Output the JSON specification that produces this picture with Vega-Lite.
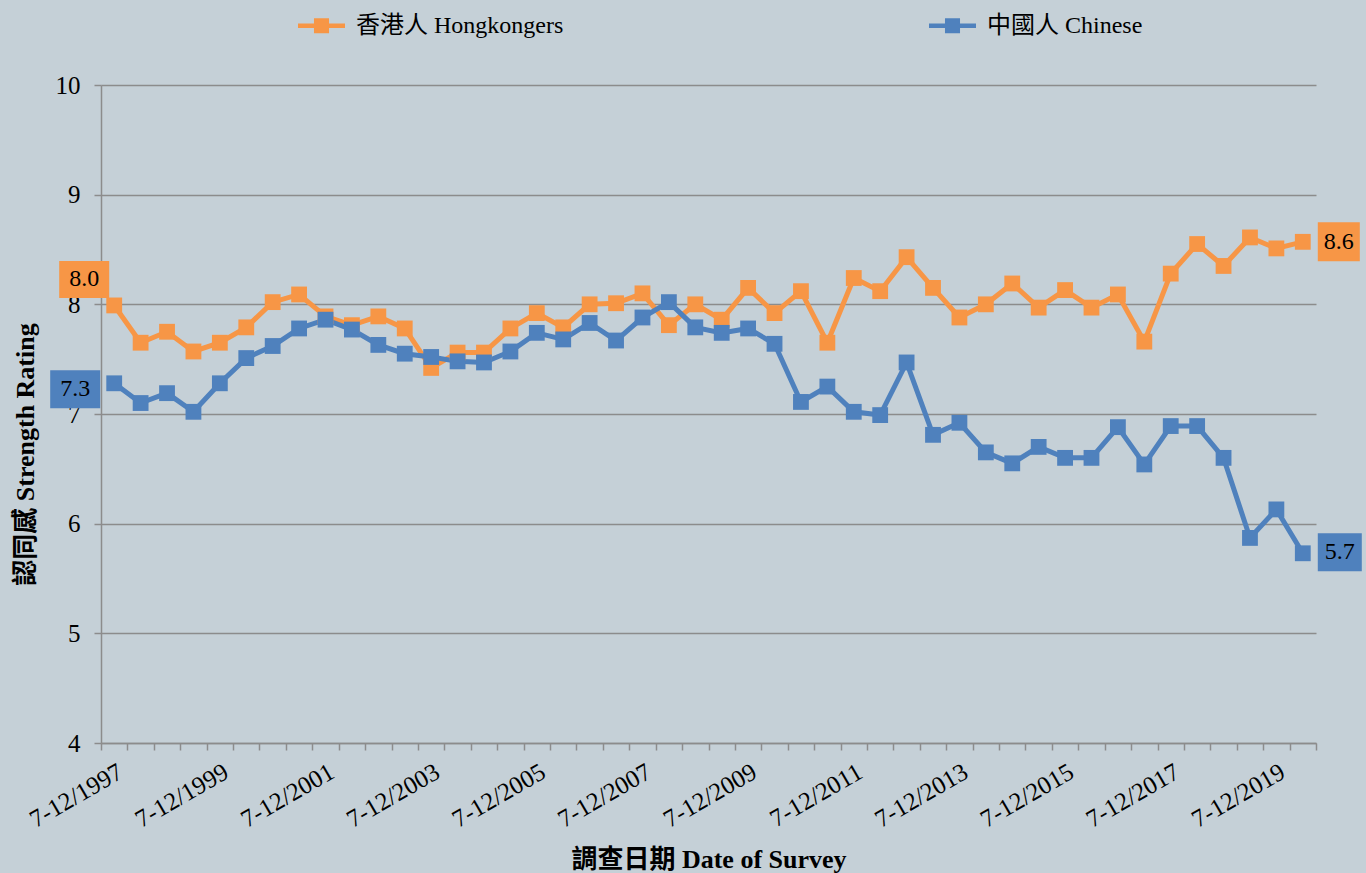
{
  "$schema": "https://vega.github.io/schema/vega-lite/v6.json",
  "width": 1215,
  "height": 658,
  "autosize": {"type": "none"},
  "padding": {"left": 101, "top": 85, "right": 50, "bottom": 130},
  "background": "#C5D0D7",
  "config": {"view": {"stroke": null}, "font": "Liberation Serif"},
  "data": {"values": [
    {"date": "7-12/1997", "series": "香港人 Hongkongers", "value": 7.99},
    {"date": "7-12/1997", "series": "中國人 Chinese", "value": 7.28},
    {"date": "1-6/1998", "series": "香港人 Hongkongers", "value": 7.65},
    {"date": "1-6/1998", "series": "中國人 Chinese", "value": 7.10},
    {"date": "7-12/1998", "series": "香港人 Hongkongers", "value": 7.75},
    {"date": "7-12/1998", "series": "中國人 Chinese", "value": 7.19},
    {"date": "1-6/1999", "series": "香港人 Hongkongers", "value": 7.57},
    {"date": "1-6/1999", "series": "中國人 Chinese", "value": 7.02},
    {"date": "7-12/1999", "series": "香港人 Hongkongers", "value": 7.65},
    {"date": "7-12/1999", "series": "中國人 Chinese", "value": 7.28},
    {"date": "1-6/2000", "series": "香港人 Hongkongers", "value": 7.79},
    {"date": "1-6/2000", "series": "中國人 Chinese", "value": 7.51},
    {"date": "7-12/2000", "series": "香港人 Hongkongers", "value": 8.02},
    {"date": "7-12/2000", "series": "中國人 Chinese", "value": 7.62},
    {"date": "1-6/2001", "series": "香港人 Hongkongers", "value": 8.09},
    {"date": "1-6/2001", "series": "中國人 Chinese", "value": 7.78},
    {"date": "7-12/2001", "series": "香港人 Hongkongers", "value": 7.89},
    {"date": "7-12/2001", "series": "中國人 Chinese", "value": 7.86},
    {"date": "1-6/2002", "series": "香港人 Hongkongers", "value": 7.81},
    {"date": "1-6/2002", "series": "中國人 Chinese", "value": 7.77},
    {"date": "7-12/2002", "series": "香港人 Hongkongers", "value": 7.89},
    {"date": "7-12/2002", "series": "中國人 Chinese", "value": 7.63},
    {"date": "1-6/2003", "series": "香港人 Hongkongers", "value": 7.78},
    {"date": "1-6/2003", "series": "中國人 Chinese", "value": 7.55},
    {"date": "7-12/2003", "series": "香港人 Hongkongers", "value": 7.42},
    {"date": "7-12/2003", "series": "中國人 Chinese", "value": 7.52},
    {"date": "1-6/2004", "series": "香港人 Hongkongers", "value": 7.56},
    {"date": "1-6/2004", "series": "中國人 Chinese", "value": 7.48},
    {"date": "7-12/2004", "series": "香港人 Hongkongers", "value": 7.56},
    {"date": "7-12/2004", "series": "中國人 Chinese", "value": 7.47},
    {"date": "1-6/2005", "series": "香港人 Hongkongers", "value": 7.78},
    {"date": "1-6/2005", "series": "中國人 Chinese", "value": 7.57},
    {"date": "7-12/2005", "series": "香港人 Hongkongers", "value": 7.92},
    {"date": "7-12/2005", "series": "中國人 Chinese", "value": 7.74},
    {"date": "1-6/2006", "series": "香港人 Hongkongers", "value": 7.79},
    {"date": "1-6/2006", "series": "中國人 Chinese", "value": 7.68},
    {"date": "7-12/2006", "series": "香港人 Hongkongers", "value": 8.00},
    {"date": "7-12/2006", "series": "中國人 Chinese", "value": 7.83},
    {"date": "1-6/2007", "series": "香港人 Hongkongers", "value": 8.01},
    {"date": "1-6/2007", "series": "中國人 Chinese", "value": 7.67},
    {"date": "7-12/2007", "series": "香港人 Hongkongers", "value": 8.10},
    {"date": "7-12/2007", "series": "中國人 Chinese", "value": 7.88},
    {"date": "1-6/2008", "series": "香港人 Hongkongers", "value": 7.81},
    {"date": "1-6/2008", "series": "中國人 Chinese", "value": 8.02},
    {"date": "7-12/2008", "series": "香港人 Hongkongers", "value": 8.00},
    {"date": "7-12/2008", "series": "中國人 Chinese", "value": 7.79},
    {"date": "1-6/2009", "series": "香港人 Hongkongers", "value": 7.86},
    {"date": "1-6/2009", "series": "中國人 Chinese", "value": 7.74},
    {"date": "7-12/2009", "series": "香港人 Hongkongers", "value": 8.15},
    {"date": "7-12/2009", "series": "中國人 Chinese", "value": 7.78},
    {"date": "1-6/2010", "series": "香港人 Hongkongers", "value": 7.92},
    {"date": "1-6/2010", "series": "中國人 Chinese", "value": 7.64},
    {"date": "7-12/2010", "series": "香港人 Hongkongers", "value": 8.12},
    {"date": "7-12/2010", "series": "中國人 Chinese", "value": 7.11},
    {"date": "1-6/2011", "series": "香港人 Hongkongers", "value": 7.65},
    {"date": "1-6/2011", "series": "中國人 Chinese", "value": 7.25},
    {"date": "7-12/2011", "series": "香港人 Hongkongers", "value": 8.24},
    {"date": "7-12/2011", "series": "中國人 Chinese", "value": 7.02},
    {"date": "1-6/2012", "series": "香港人 Hongkongers", "value": 8.12},
    {"date": "1-6/2012", "series": "中國人 Chinese", "value": 6.99},
    {"date": "7-12/2012", "series": "香港人 Hongkongers", "value": 8.43},
    {"date": "7-12/2012", "series": "中國人 Chinese", "value": 7.47},
    {"date": "1-6/2013", "series": "香港人 Hongkongers", "value": 8.15},
    {"date": "1-6/2013", "series": "中國人 Chinese", "value": 6.81},
    {"date": "7-12/2013", "series": "香港人 Hongkongers", "value": 7.88},
    {"date": "7-12/2013", "series": "中國人 Chinese", "value": 6.92},
    {"date": "1-6/2014", "series": "香港人 Hongkongers", "value": 8.00},
    {"date": "1-6/2014", "series": "中國人 Chinese", "value": 6.65},
    {"date": "7-12/2014", "series": "香港人 Hongkongers", "value": 8.19},
    {"date": "7-12/2014", "series": "中國人 Chinese", "value": 6.55},
    {"date": "1-6/2015", "series": "香港人 Hongkongers", "value": 7.97},
    {"date": "1-6/2015", "series": "中國人 Chinese", "value": 6.70},
    {"date": "7-12/2015", "series": "香港人 Hongkongers", "value": 8.13},
    {"date": "7-12/2015", "series": "中國人 Chinese", "value": 6.60},
    {"date": "1-6/2016", "series": "香港人 Hongkongers", "value": 7.97},
    {"date": "1-6/2016", "series": "中國人 Chinese", "value": 6.60},
    {"date": "7-12/2016", "series": "香港人 Hongkongers", "value": 8.09},
    {"date": "7-12/2016", "series": "中國人 Chinese", "value": 6.88},
    {"date": "1-6/2017", "series": "香港人 Hongkongers", "value": 7.66},
    {"date": "1-6/2017", "series": "中國人 Chinese", "value": 6.54},
    {"date": "7-12/2017", "series": "香港人 Hongkongers", "value": 8.28},
    {"date": "7-12/2017", "series": "中國人 Chinese", "value": 6.89},
    {"date": "1-6/2018", "series": "香港人 Hongkongers", "value": 8.55},
    {"date": "1-6/2018", "series": "中國人 Chinese", "value": 6.89},
    {"date": "7-12/2018", "series": "香港人 Hongkongers", "value": 8.35},
    {"date": "7-12/2018", "series": "中國人 Chinese", "value": 6.60},
    {"date": "1-6/2019", "series": "香港人 Hongkongers", "value": 8.61},
    {"date": "1-6/2019", "series": "中國人 Chinese", "value": 5.87},
    {"date": "7-12/2019", "series": "香港人 Hongkongers", "value": 8.51},
    {"date": "7-12/2019", "series": "中國人 Chinese", "value": 6.13},
    {"date": "1-6/2020", "series": "香港人 Hongkongers", "value": 8.57},
    {"date": "1-6/2020", "series": "中國人 Chinese", "value": 5.73}
  ]},
  "encoding": {
    "x": {
      "field": "date", "type": "ordinal", "sort": null, "bandPosition": 0.5,
      "scale": {"type": "band", "paddingInner": 0, "paddingOuter": 0},
      "axis": {
        "title": "調查日期 Date of Survey",
        "titleFont": "Liberation Serif, Noto Sans CJK TC",
        "titleFontSize": 26, "titleFontWeight": "bold", "titleColor": "#000000",
        "titleY": 124, "titleBaseline": "alphabetic",
        "labelAngle": -30, "labelFontSize": 25, "labelFont": "Liberation Serif", "labelColor": "#000000",
        "labelPadding": 9, "labelOverlap": false, "labelBound": false,
        "labelExpr": "slice(datum.label,0,5)=='7-12/' && toNumber(slice(datum.label,5))%2==1 ? datum.label : ''",
        "tickBand": "extent", "tickSize": 7, "tickColor": "#8C8C8C", "tickWidth": 1.5,
        "domainColor": "#8C8C8C", "domainWidth": 1.5, "grid": false
      }
    },
    "y": {
      "field": "value", "type": "quantitative",
      "scale": {"domain": [4, 10], "nice": false, "zero": false},
      "axis": {
        "values": [4, 5, 6, 7, 8, 9, 10], "format": "d",
        "title": "認同感 Strength Rating",
        "titleFont": "Liberation Serif, Noto Sans CJK TC",
        "titleFontSize": 26, "titleFontWeight": "bold", "titleColor": "#000000",
        "titleX": -76, "titleY": 369, "titleAngle": -90, "titleBaseline": "middle", "titleAlign": "center",
        "labelFontSize": 25, "labelFont": "Liberation Serif", "labelColor": "#000000", "labelPadding": 14,
        "tickSize": 7, "tickColor": "#8C8C8C", "tickWidth": 1.5,
        "domainColor": "#8C8C8C", "domainWidth": 1.5,
        "grid": true, "gridColor": "#8C8C8C", "gridWidth": 1.5
      }
    },
    "color": {"field": "series", "type": "nominal",
      "scale": {"domain": ["香港人 Hongkongers", "中國人 Chinese"], "range": ["#F79646", "#4F81BD"]},
      "legend": {
        "orient": "none", "legendX": 197, "legendY": -83, "direction": "horizontal", "title": null,
        "symbolType": "M-1,-0.095H1V0.095H-1Z M-0.32,-0.32H0.32V0.32H-0.32Z",
        "symbolSize": 2209, "symbolStrokeWidth": 0, "symbolOpacity": 1,
        "labelFont": "Liberation Serif, Noto Sans CJK TC", "labelFontSize": 24, "labelColor": "#000000",
        "labelOffset": 11, "columnPadding": 365, "labelLimit": 400
      }}
  },
  "layer": [
    {
      "mark": {"type": "line", "strokeWidth": 5}
    },
    {
      "mark": {"type": "point", "shape": "square", "size": 250, "filled": true, "opacity": 1}
    },
    {
      "transform": [{"filter": "datum.date=='7-12/1997' && datum.series=='香港人 Hongkongers'"}],
      "layer": [
        {"mark": {"type": "point", "shape": "M-1,-0.74H1V0.74H-1Z", "size": 2500, "filled": true, "opacity": 1, "xOffset": -30, "yOffset": -26}},
        {"mark": {"type": "text", "fontSize": 24, "xOffset": -30, "yOffset": -26, "baseline": "middle", "align": "center"},
         "encoding": {"text": {"field": "value", "type": "quantitative", "format": ".1f"}, "color": {"value": "#000000"}}}
      ]
    },
    {
      "transform": [{"filter": "datum.date=='7-12/1997' && datum.series=='中國人 Chinese'"}],
      "layer": [
        {"mark": {"type": "point", "shape": "M-1,-0.76H1V0.76H-1Z", "size": 2500, "filled": true, "opacity": 1, "xOffset": -39, "yOffset": 6}},
        {"mark": {"type": "text", "fontSize": 24, "xOffset": -39, "yOffset": 6, "baseline": "middle", "align": "center"},
         "encoding": {"text": {"field": "value", "type": "quantitative", "format": ".1f"}, "color": {"value": "#000000"}}}
      ]
    },
    {
      "transform": [{"filter": "datum.date=='1-6/2020' && datum.series=='香港人 Hongkongers'"}],
      "layer": [
        {"mark": {"type": "point", "shape": "M-1,-0.93H1V0.93H-1Z", "size": 1764, "filled": true, "opacity": 1, "xOffset": 36, "yOffset": 0}},
        {"mark": {"type": "text", "fontSize": 24, "xOffset": 36, "yOffset": 0, "baseline": "middle", "align": "center"},
         "encoding": {"text": {"field": "value", "type": "quantitative", "format": ".1f"}, "color": {"value": "#000000"}}}
      ]
    },
    {
      "transform": [{"filter": "datum.date=='1-6/2020' && datum.series=='中國人 Chinese'"}],
      "layer": [
        {"mark": {"type": "point", "shape": "M-1,-0.86H1V0.86H-1Z", "size": 1936, "filled": true, "opacity": 1, "xOffset": 37, "yOffset": -1}},
        {"mark": {"type": "text", "fontSize": 24, "xOffset": 37, "yOffset": -1, "baseline": "middle", "align": "center"},
         "encoding": {"text": {"field": "value", "type": "quantitative", "format": ".1f"}, "color": {"value": "#000000"}}}
      ]
    }
  ]
}
